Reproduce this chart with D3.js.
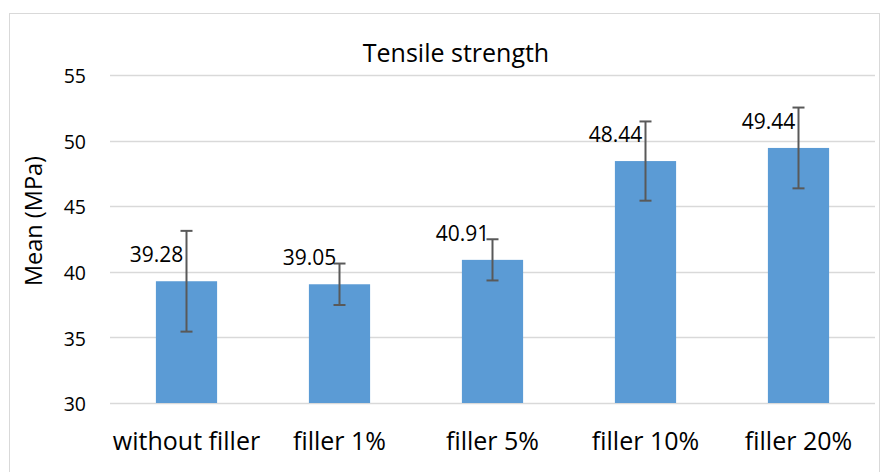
<!DOCTYPE html>
<html lang="en">
<head>
  <meta charset="UTF-8">
  <title>Tensile strength</title>
  <style>
    body {
      margin: 0;
      padding: 0;
      background-color: #ffffff;
      font-family: 'Open Sans', 'Noto Sans', sans-serif;
    }
    svg { display: block; }
  </style>
</head>
<body>

<svg></svg>

<script src="https://d3js.org/d3.v7.min.js"></script>
<script>
  const categories = ["without filler", "filler 1%", "filler 5%", "filler 10%", "filler 20%"];
  const means = [39.28, 39.05, 40.91, 48.44, 49.44];
  const errors = [3.84, 1.58, 1.57, 3.02, 3.08];
  const yTicks = [30, 35, 40, 45, 50, 55];

  const width = 888, height = 472;
  const margin = { left: 110, right: 13, top: 75, bottom: 69 };

  const svg = d3.select("svg")
    .attr("width", width)
    .attr("height", height);

  // chart frame
  svg.append("rect")
    .attr("x", 9.5).attr("y", 13.5)
    .attr("width", 870).attr("height", 470)
    .attr("fill", "none")
    .attr("stroke", "#d9d9d9");

  const x = d3.scaleBand()
    .domain(categories)
    .range([margin.left, width - margin.right])
    .paddingInner(0.6)
    .paddingOuter(0.3);

  const y = d3.scaleLinear()
    .domain([30, 55])
    .range([height - margin.bottom, margin.top]);

  // gridlines
  svg.append("g")
    .selectAll("line")
    .data(yTicks)
    .enter()
    .append("line")
    .attr("x1", margin.left)
    .attr("x2", width - margin.right)
    .attr("y1", d => Math.round(y(d)) + 0.5)
    .attr("y2", d => Math.round(y(d)) + 0.5)
    .attr("stroke", "#d9d9d9")
    .attr("stroke-width", 1.3);

  // y tick labels
  svg.append("g")
    .selectAll("text")
    .data(yTicks)
    .enter()
    .append("text")
    .attr("x", 86)
    .attr("y", d => y(d))
    .attr("dy", "0.42em")
    .attr("text-anchor", "end")
    .attr("font-size", 19.5)
    .attr("fill", "#000")
    .text(d => d);

  // bars
  svg.append("g")
    .selectAll("rect")
    .data(means)
    .enter()
    .append("rect")
    .attr("x", (d, i) => x(categories[i]))
    .attr("y", d => y(d))
    .attr("width", x.bandwidth())
    .attr("height", d => y(30) - y(d))
    .attr("fill", "#5b9bd5");

  // error bars
  const eb = svg.append("g")
    .attr("stroke", "#595959")
    .attr("stroke-width", 2);

  means.forEach((m, i) => {
    const cx = x(categories[i]) + x.bandwidth() / 2;
    const top = y(m + errors[i]), bot = y(m - errors[i]);
    eb.append("line").attr("x1", cx).attr("x2", cx).attr("y1", top).attr("y2", bot);
    eb.append("line").attr("x1", cx - 6).attr("x2", cx + 6).attr("y1", top).attr("y2", top);
    eb.append("line").attr("x1", cx - 6).attr("x2", cx + 6).attr("y1", bot).attr("y2", bot);
  });

  // value labels (sit up and left of the bar top)
  svg.append("g")
    .selectAll("text")
    .data(means)
    .enter()
    .append("text")
    .attr("x", (d, i) => x(categories[i]) + x.bandwidth() / 2 - 30)
    .attr("y", d => y(d) - 19)
    .attr("text-anchor", "middle")
    .attr("font-size", 21)
    .attr("fill", "#000")
    .text(d => d.toFixed(2));

  // category labels
  svg.append("g")
    .selectAll("text")
    .data(categories)
    .enter()
    .append("text")
    .attr("x", d => x(d) + x.bandwidth() / 2)
    .attr("y", 450)
    .attr("text-anchor", "middle")
    .attr("font-size", 25)
    .attr("fill", "#000")
    .text(d => d);

  // title
  svg.append("text")
    .attr("x", 456)
    .attr("y", 62)
    .attr("text-anchor", "middle")
    .attr("font-size", 25)
    .attr("fill", "#000")
    .text("Tensile strength");

  // y axis title
  svg.append("text")
    .attr("transform", "translate(42,221) rotate(-90)")
    .attr("text-anchor", "middle")
    .attr("font-size", 23.5)
    .attr("fill", "#000")
    .text("Mean (MPa)");
</script>

</body>
</html>
